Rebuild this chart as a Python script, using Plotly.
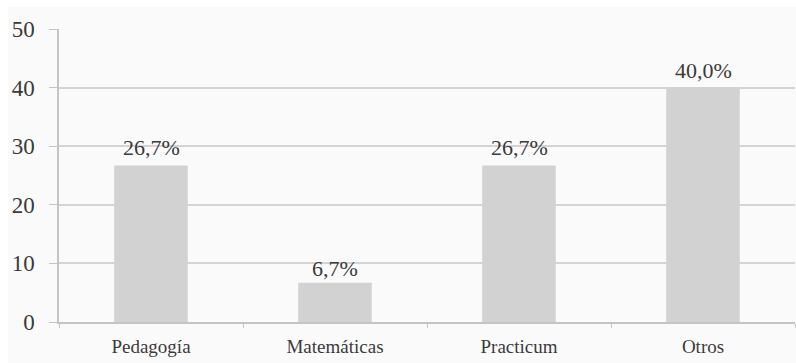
import plotly.graph_objects as go

# Share of responses by area
categories = ["Pedagogía", "Matemáticas", "Practicum", "Otros"]
values = [26.7, 6.7, 26.7, 40.0]
y_ticks = [0, 10, 20, 30, 40, 50]

labels = [f"{v:.1f}".replace(".", ",") + "%" for v in values]
# vertical offset (px) of each value label above its bar
label_shift = [4, 0, 4, 3]

W, H = 796, 363
font_family = "Liberation Serif, serif"
text_color = "#3a3a3a"
grid_color = "#d4d4d4"
axis_color = "#c4c4c4"

fig = go.Figure(
    go.Bar(
        x=categories,
        y=values,
        marker=dict(color="#d2d2d2", line=dict(width=0)),
        hoverinfo="x+y",
    )
)

for cat, val, txt, dy in zip(categories, values, labels, label_shift):
    fig.add_annotation(
        x=cat, y=val, text=txt, showarrow=False,
        xanchor="center", yanchor="bottom", yshift=dy,
        font=dict(family=font_family, size=22, color=text_color),
    )

fig.update_layout(
    width=W,
    height=H,
    margin=dict(l=59, r=1, t=29, b=41),
    paper_bgcolor="white",
    plot_bgcolor="#fdfdfd",
    bargap=0.6,
    showlegend=False,
    font=dict(family=font_family, color=text_color),
    shapes=[
        # light backdrop framing the chart
        dict(
            type="rect", xref="paper", yref="paper",
            x0=-51 / 736, x1=1.01, y0=-41 / 293, y1=1 + 22 / 293,
            fillcolor="#fafafa", line=dict(width=0), layer="below",
        )
    ],
)

fig.update_xaxes(
    showgrid=False,
    showline=True,
    linecolor=axis_color,
    linewidth=1.5,
    ticks="outside",
    tickson="boundaries",
    ticklen=4,
    tickcolor=axis_color,
    tickfont=dict(family=font_family, size=19, color=text_color),
    ticklabelstandoff=6,
)

fig.update_yaxes(
    range=[0, 50],
    tickvals=y_ticks,
    showgrid=True,
    gridcolor=grid_color,
    gridwidth=1.5,
    zeroline=False,
    showline=True,
    linecolor=axis_color,
    linewidth=1.5,
    ticks="outside",
    ticklen=8,
    tickcolor=axis_color,
    tickfont=dict(family=font_family, size=23, color=text_color),
    ticklabelstandoff=10,
)

fig.write_html("out.html")
